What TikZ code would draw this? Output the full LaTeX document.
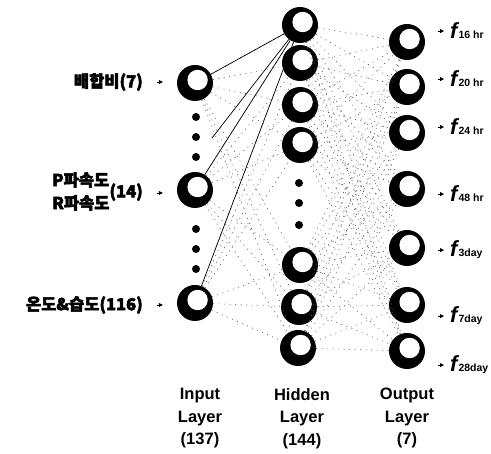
\documentclass[tikz,border=0pt]{standalone}
\usepackage{fontspec}
\setmainfont{Liberation Sans}
\newfontfamily\krfont{Noto Sans CJK KR}[FakeBold=3]
\usetikzlibrary{arrows.meta}

\newlength{\du}
\setlength{\du}{1pt}

\newcommand{\fout}[1]{{\fontsize{22}{22}\selectfont\bfseries\itshape f}\kern1\du{\fontsize{10.5}{11}\selectfont\bfseries #1}}

\tikzset{
  neuron/.style={circle, fill=black, minimum size=36\du, inner sep=0pt,
    path picture={\fill[white] ([shift={(2.6\du,3\du)}]path picture bounding box.center) circle (10.2\du);}},
  bead/.style={circle, fill=black, minimum size=8\du, inner sep=0pt},
  faint/.style={black!65, line width=0.6\du, dash pattern=on 1pt off 4.5pt},
  wire/.style={black, line width=0.7\du},
  pointer/.style={-{Triangle[length=4pt,width=4pt]}, line width=0.8pt},
  inlabel/.style={font=\krfont\bfseries\fontsize{16.5}{23}\selectfont, inner sep=0pt, anchor=east},
  outlabel/.style={inner sep=0pt, anchor=base west},
  layertitle/.style={font=\bfseries\fontsize{16.5}{22.5}\selectfont, align=center, anchor=north, inner sep=0pt}
}

\begin{document}
\begin{tikzpicture}
\useasboundingbox (0\du,0\du) rectangle (491\du,-454\du);

% input layer
\node[neuron] (in1) at (195\du,-83\du) {};
\node[bead] (da1) at (196\du,-117\du) {};
\node[bead] (da2) at (196\du,-137\du) {};
\node[bead] (da3) at (196\du,-157\du) {};
\node[neuron] (in2) at (195\du,-190\du) {};
\node[bead] (db1) at (196\du,-229\du) {};
\node[bead] (db2) at (196\du,-249\du) {};
\node[bead] (db3) at (196\du,-269\du) {};
\node[neuron] (in3) at (195\du,-303\du) {};
\coordinate (ihid) at (212\du,-138\du);

\node[inlabel] (lbl1) at (143\du,-82\du) {배합비(7)};
\node[inlabel] (lbl2) at (143\du,-193\du) {\begin{tabular}{@{}l@{}}P파속도\\R파속도\end{tabular}(14)};
\node[inlabel] (lbl3) at (143\du,-305\du) {온도\&습도(116)};

% hidden layer
\node[neuron] (h1) at (300\du,-25\du) {};
\node[neuron] (h2) at (300\du,-63\du) {};
\node[neuron] (h3) at (300\du,-105\du) {};
\node[neuron] (h4) at (300\du,-145\du) {};
\node[bead] (dh1) at (299\du,-183\du) {};
\node[bead] (dh2) at (299\du,-203\du) {};
\node[bead] (dh3) at (299\du,-225\du) {};
\node[neuron] (h5) at (300\du,-265\du) {};
\node[neuron] (h6) at (299\du,-307\du) {};
\node[neuron] (h7) at (298\du,-348\du) {};

% output layer
\node[neuron] (o1) at (407\du,-42\du) {};
\node[neuron] (o2) at (407\du,-87\du) {};
\node[neuron] (o3) at (407\du,-133\du) {};
\node[neuron] (o4) at (407\du,-189\du) {};
\node[neuron] (o5) at (407\du,-248\du) {};
\node[neuron] (o6) at (407\du,-305\du) {};
\node[neuron] (o7) at (407\du,-351\du) {};

\node[outlabel] (f1) at (450\du,-39\du) {\fout{16 hr}};
\node[outlabel] (f2) at (450\du,-87\du) {\fout{20 hr}};
\node[outlabel] (f3) at (450\du,-135\du) {\fout{24 hr}};
\node[outlabel] (f4) at (450\du,-202\du) {\fout{48 hr}};
\node[outlabel] (f5) at (450\du,-257\du) {\fout{3day}};
\node[outlabel] (f6) at (450\du,-323\du) {\fout{7day}};
\node[outlabel] (f7) at (450\du,-372\du) {\fout{28day}};

% layer titles
\node[layertitle] (tin) at (200\du,-388\du) {Input\\Layer\\(137)};
\node[layertitle] (thid) at (302\du,-388\du) {Hidden\\Layer\\(144)};
\node[layertitle] (tout) at (407\du,-388\du) {Output\\Layer\\(7)};

% faint weights
\draw[faint] (in1) -- (h1) (in1) -- (h2) (in1) -- (h3) (in1) -- (h4) (in1) -- (h5) (in1) -- (h6) (in1) -- (h7);
\draw[faint] (in2) -- (h1) (in2) -- (h2) (in2) -- (h3) (in2) -- (h4) (in2) -- (h5) (in2) -- (h6) (in2) -- (h7);
\draw[faint] (in3) -- (h1) (in3) -- (h2) (in3) -- (h3) (in3) -- (h4) (in3) -- (h5) (in3) -- (h6) (in3) -- (h7);
\draw[faint] (h1) -- (o1) (h1) -- (o2) (h1) -- (o3) (h1) -- (o4) (h1) -- (o5) (h1) -- (o6) (h1) -- (o7);
\draw[faint] (h2) -- (o1) (h2) -- (o2) (h2) -- (o3) (h2) -- (o4) (h2) -- (o5) (h2) -- (o6) (h2) -- (o7);
\draw[faint] (h3) -- (o1) (h3) -- (o2) (h3) -- (o3) (h3) -- (o4) (h3) -- (o5) (h3) -- (o6) (h3) -- (o7);
\draw[faint] (h4) -- (o1) (h4) -- (o2) (h4) -- (o3) (h4) -- (o4) (h4) -- (o5) (h4) -- (o6) (h4) -- (o7);
\draw[faint] (h5) -- (o1) (h5) -- (o2) (h5) -- (o3) (h5) -- (o4) (h5) -- (o5) (h5) -- (o6) (h5) -- (o7);
\draw[faint] (h6) -- (o1) (h6) -- (o2) (h6) -- (o3) (h6) -- (o4) (h6) -- (o5) (h6) -- (o6) (h6) -- (o7);
\draw[faint] (h7) -- (o1) (h7) -- (o2) (h7) -- (o3) (h7) -- (o4) (h7) -- (o5) (h7) -- (o6) (h7) -- (o7);

% weights of the first hidden unit
\draw[wire] (h1) -- (in1);
\draw[wire] (h1) -- (ihid);
\draw[wire] (h1) -- (in2);
\draw[wire] (h1) -- (in3);

% pointers
\draw[pointer, shorten <=14pt, shorten >=14pt] (lbl1.east) -- (lbl1.east -| in1.west);
\draw[pointer, shorten <=14pt, shorten >=14pt] (lbl2.east) -- (lbl2.east -| in2.west);
\draw[pointer, shorten <=14pt, shorten >=14pt] (lbl3.east) -- (lbl3.east -| in3.west);
\draw[pointer, shorten <=13pt, shorten >=6pt] (f1.west -| o1.east) -- (f1.west);
\draw[pointer, shorten <=13pt, shorten >=6pt] (f2.west -| o2.east) -- (f2.west);
\draw[pointer, shorten <=13pt, shorten >=6pt] (f3.west -| o3.east) -- (f3.west);
\draw[pointer, shorten <=13pt, shorten >=6pt] (f4.west -| o4.east) -- (f4.west);
\draw[pointer, shorten <=13pt, shorten >=6pt] (f5.west -| o5.east) -- (f5.west);
\draw[pointer, shorten <=13pt, shorten >=6pt] (f6.west -| o6.east) -- (f6.west);
\draw[pointer, shorten <=13pt, shorten >=6pt] (f7.west -| o7.east) -- (f7.west);
\end{tikzpicture}
\end{document}
